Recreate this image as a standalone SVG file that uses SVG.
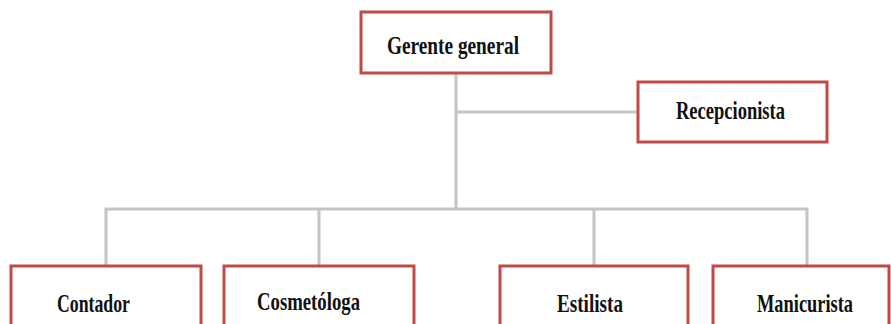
<svg xmlns="http://www.w3.org/2000/svg" width="891" height="324" viewBox="0 0 891 324">
<style>
.box{fill:#fff;stroke:#BE4B48;stroke-width:3}
.lbl{font-family:"Liberation Serif","Times New Roman",serif;font-weight:bold;font-size:25px;fill:#111}
.con{fill:none;stroke:#C4C4C4;stroke-width:3}
</style>
<rect width="891" height="324" fill="#fff"/>
<g id="connectors">
<path class="con" d="M456 73V209M456 112H638M106 265V209H807V265M319 209V265M594 209V265"/>
</g>
<g id="gerente">
<rect class="box" x="361" y="12" width="190" height="61"/>
<text class="lbl" x="387" y="54" textLength="132" lengthAdjust="spacingAndGlyphs">Gerente general</text>
</g>
<g id="recepcionista">
<rect class="box" x="638" y="82" width="189" height="60"/>
<text class="lbl" x="676" y="119" textLength="109" lengthAdjust="spacingAndGlyphs">Recepcionista</text>
</g>
<g id="contador">
<rect class="box" x="11" y="266" width="190" height="70"/>
<text class="lbl" x="57" y="312" textLength="73" lengthAdjust="spacingAndGlyphs">Contador</text>
</g>
<g id="cosmetologa">
<rect class="box" x="224" y="266" width="190" height="70"/>
<text class="lbl" x="257" y="310" textLength="103" lengthAdjust="spacingAndGlyphs">Cosmetóloga</text>
</g>
<g id="estilista">
<rect class="box" x="500" y="266" width="188" height="70"/>
<text class="lbl" x="557" y="312" textLength="66" lengthAdjust="spacingAndGlyphs">Estilista</text>
</g>
<g id="manicurista">
<rect class="box" x="713" y="266" width="176" height="70"/>
<text class="lbl" x="757" y="312" textLength="96" lengthAdjust="spacingAndGlyphs">Manicurista</text>
</g>
</svg>
